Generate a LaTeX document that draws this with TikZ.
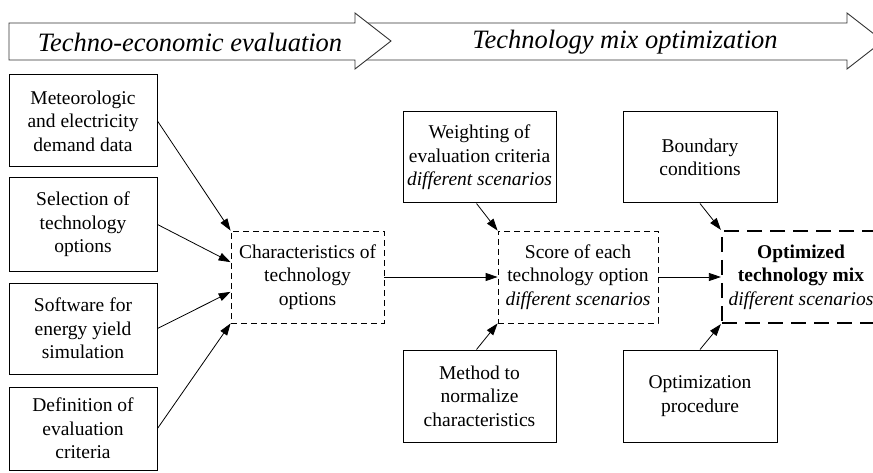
\documentclass[tikz,border=0pt]{standalone}
\usepackage{fontspec}
\setmainfont{Liberation Serif}
\newfontfamily\tms{Liberation Serif}
\usetikzlibrary{arrows.meta,calc}
\begin{document}
\begin{tikzpicture}[x=1pt,y=-1pt,
  box/.style={draw, line width=1pt, align=center, inner sep=0pt,
    font=\tms\fontsize{19.5}{23.5}\selectfont},
  dbox/.style={box, line width=0.8pt, dash pattern=on 6pt off 4pt},
  tbox/.style={box, line width=2.2pt, dash pattern=on 15pt off 8pt},
  arr/.style={line width=0.8pt, -{Triangle[length=12pt,width=8pt]}},
  banner/.style={draw=black!80, line width=0.9pt, fill=white},
  bannertext/.style={font=\tms\itshape\fontsize{26.5}{30}\selectfont, inner sep=0pt}]
\useasboundingbox (0,0) rectangle (873,473);
\clip (0,0) rectangle (873,473);
% banner
\draw[banner] (355,23) -- (847,23) -- (847,13) -- (883,41) -- (847,69) -- (847,60) -- (355,60) -- cycle;
\draw[banner] (9,23) -- (355,23) -- (355,13) -- (391,41) -- (355,69) -- (355,60) -- (9,60) -- cycle;
\node[bannertext] (t1) at (190,42) {Techno-economic evaluation};
\node[bannertext] (t2) at (625,42) {Technology mix optimization};
% left column
\node[box, minimum width=148pt, minimum height=92pt] (meteo) at (83,121) {Meteorologic\\and electricity\\demand data};
\node[box, minimum width=148pt, minimum height=93pt] (select) at (83,224.5) {Selection of\\technology\\options};
\node[box, minimum width=148pt, minimum height=91pt] (soft) at (83,328.5) {Software for\\energy yield\\simulation};
\node[box, minimum width=148pt, minimum height=83pt] (defin) at (83,428.5) {Definition of\\evaluation\\criteria};
% middle
\node[dbox, minimum width=153pt, minimum height=92pt] (char) at (307.5,277) {Characteristics of\\technology\\options};
\node[box, minimum width=153pt, minimum height=91pt] (weight) at (479.5,157.5) {Weighting of\\evaluation criteria\\\textit{different scenarios}};
\node[box, minimum width=153pt, minimum height=92pt] (method) at (479.5,396) {Method to\\normalize\\characteristics};
\node[dbox, minimum width=160pt, minimum height=92pt] (score) at (578,277) {Score of each\\technology option\\\textit{different scenarios}};
% right
\node[box, minimum width=154pt, minimum height=91pt] (bound) at (700,157.5) {Boundary\\conditions};
\node[box, minimum width=154pt, minimum height=92pt] (optproc) at (700,396) {Optimization\\procedure};
\node[tbox, minimum width=158pt, minimum height=92pt] (optim) at (801,277) {\textbf{Optimized}\\\textbf{technology mix}\\\textit{different scenarios}};
% connectors
\draw[arr] (meteo.east) -- (char.north west);
\draw[arr] (select.east) -- ($(char.north west)!0.34!(char.south west)$);
\draw[arr] (soft.east) -- ($(char.north west)!0.66!(char.south west)$);
\draw[arr] (defin.east) -- (char.south west);
\draw[arr] (char.east) -- (score.west);
\draw[arr] ([xshift=-3pt]weight.south) -- (score.north west);
\draw[arr] ([xshift=-3pt]method.north) -- (score.south west);
\draw[arr] (score.east) -- (optim.west);
\draw[arr] (bound.south) -- (optim.north west);
\draw[arr] (optproc.north) -- (optim.south west);
\end{tikzpicture}
\end{document}
